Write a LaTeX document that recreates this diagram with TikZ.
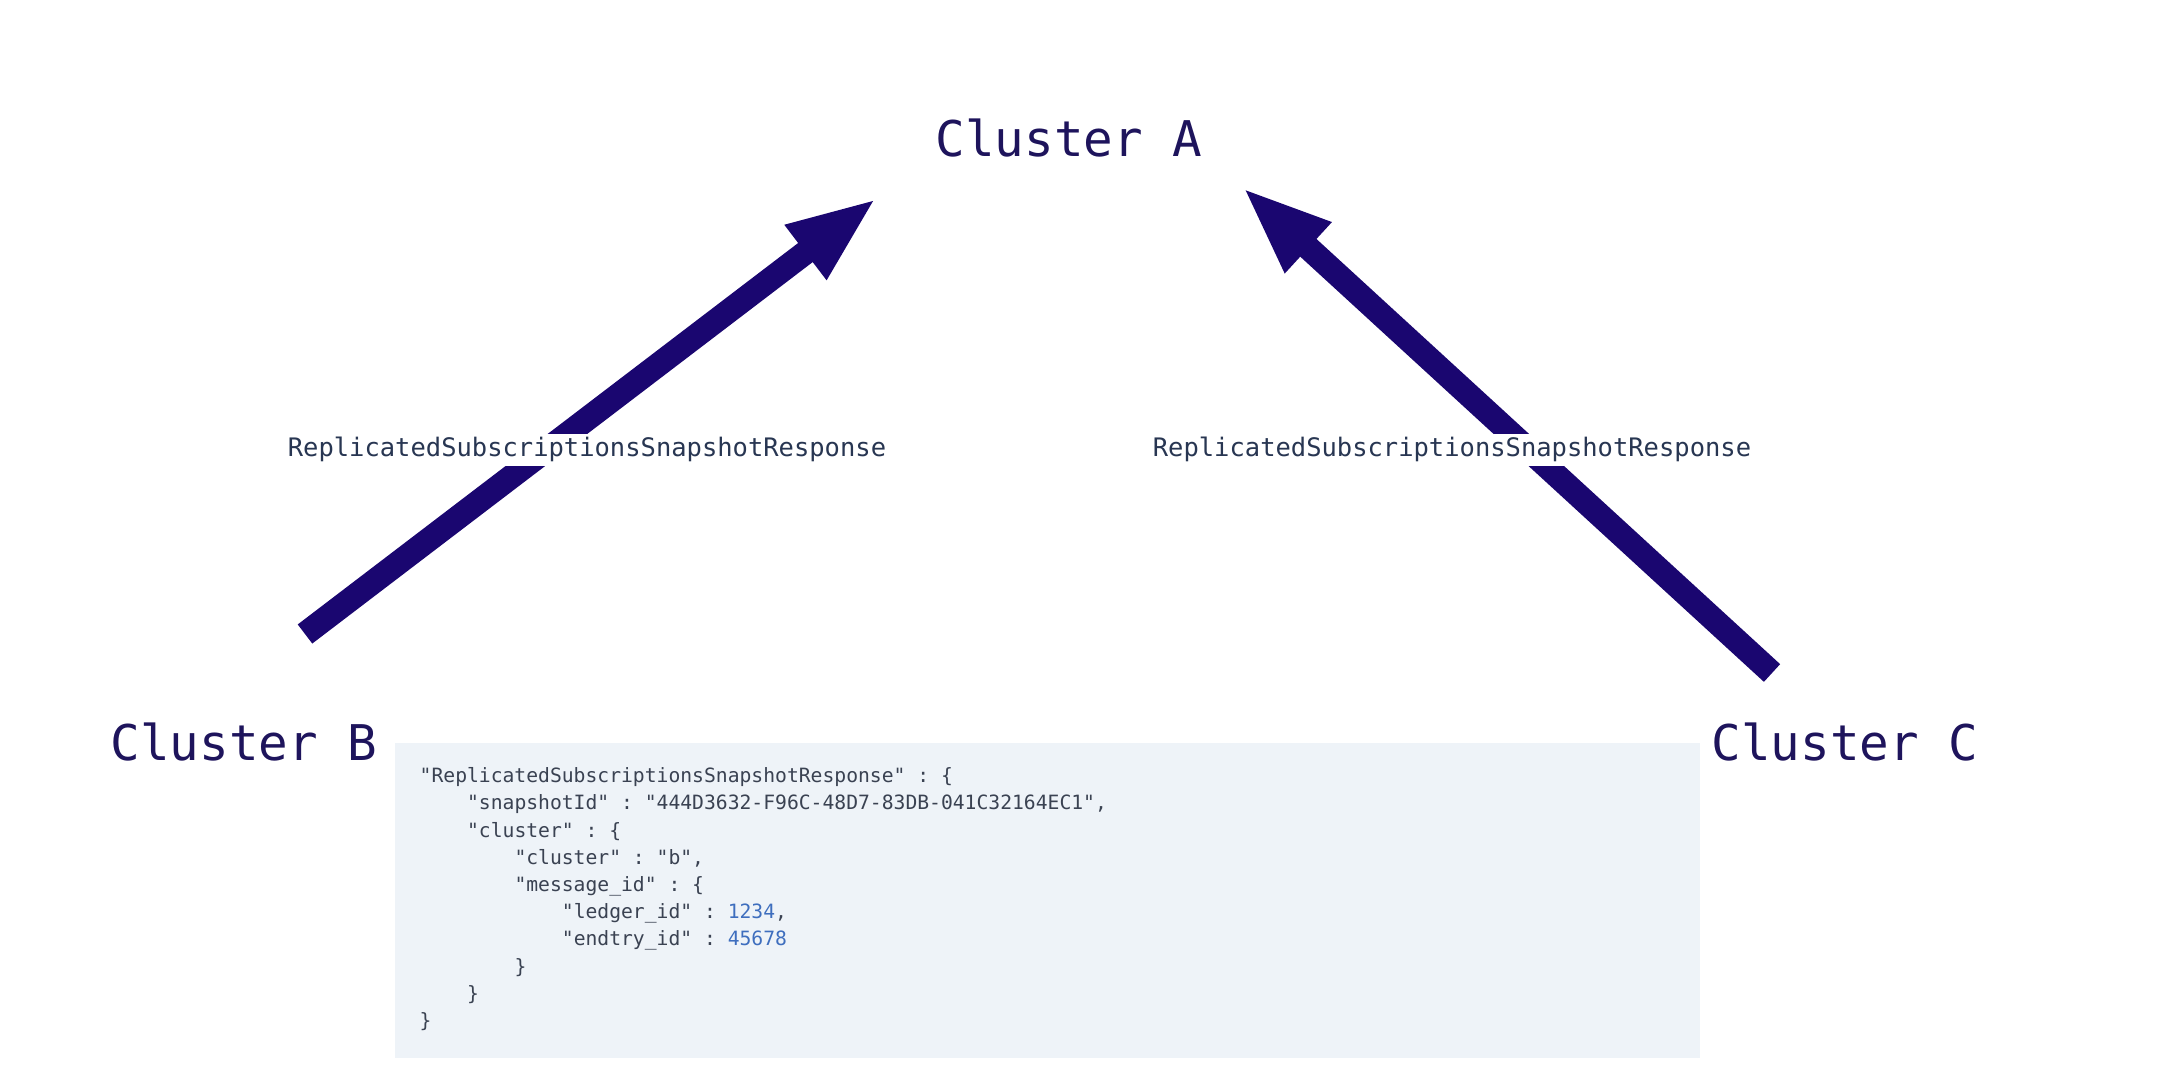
\documentclass[tikz,border=0pt]{standalone}
\usepackage{fontspec}
\setmonofont{DejaVu Sans Mono}
\usetikzlibrary{arrows.meta}

\definecolor{arrowink}{RGB}{26,6,112}
\definecolor{clusterink}{RGB}{30,20,92}
\definecolor{labelink}{RGB}{40,54,82}
\definecolor{codeink}{RGB}{58,66,82}
\definecolor{codenum}{RGB}{62,110,190}
\definecolor{codebg}{RGB}{238,243,248}

\newcommand{\indnt}{\phantom{0000}}

\tikzset{
  cluster/.style={anchor=base, text=clusterink, font=\ttfamily\fontsize{14pt}{16pt}\selectfont},
  msglabel/.style={anchor=base, text=labelink, fill=white, inner sep=1pt, font=\ttfamily\fontsize{7.25pt}{9pt}\selectfont},
  replarrow/.style={draw=arrowink, line width=0.24cm, -{Triangle[length=0.9cm,width=0.62cm]}}
}

\begin{document}
\begin{tikzpicture}
        \useasboundingbox (0,0) rectangle (21.66,10.68);

        % Cluster
        \node[cluster] (clA) at (10.69, 9.11) {Cluster A};
        \node[cluster] (clB) at (2.44, 3.08) {Cluster B};
        \node[cluster] (clC) at (18.45, 3.08) {Cluster C};

        % Estremi delle frecce
        \coordinate (b-out) at (3.05, 4.34);
        \coordinate (a-in-b) at (8.77, 8.70);
        \coordinate (c-out) at (17.72, 3.95);
        \coordinate (a-in-c) at (12.42, 8.81);

        % Frecce di replica
        \draw[replarrow] (b-out) -- (a-in-b);
        \draw[replarrow] (c-out) -- (a-in-c);

        % Etichette messaggi
        \node[msglabel] (msgB) at (5.87, 6.11) {ReplicatedSubscriptionsSnapshotResponse};
        \node[msglabel] (msgC) at (14.52, 6.11) {ReplicatedSubscriptionsSnapshotResponse};

        % Riquadro del codice
        \fill[codebg] (3.95, 0.10) rectangle (17.00, 3.25);
        \node[anchor=north west, inner sep=0pt, align=left, text=codeink,
              font=\ttfamily\fontsize{5.6pt}{7.74pt}\selectfont] (payload) at (4.19, 3.01)
        {"ReplicatedSubscriptionsSnapshotResponse" : \{\\
         \indnt"snapshotId" : "444D3632-F96C-48D7-83DB-041C32164EC1",\\
         \indnt"cluster" : \{\\
         \indnt\indnt"cluster" : "b",\\
         \indnt\indnt"message\_id" : \{\\
         \indnt\indnt\indnt"ledger\_id" : \textcolor{codenum}{1234},\\
         \indnt\indnt\indnt"endtry\_id" : \textcolor{codenum}{45678}\\
         \indnt\indnt\}\\
         \indnt\}\\
         \}};

    \end{tikzpicture}
\end{document}
